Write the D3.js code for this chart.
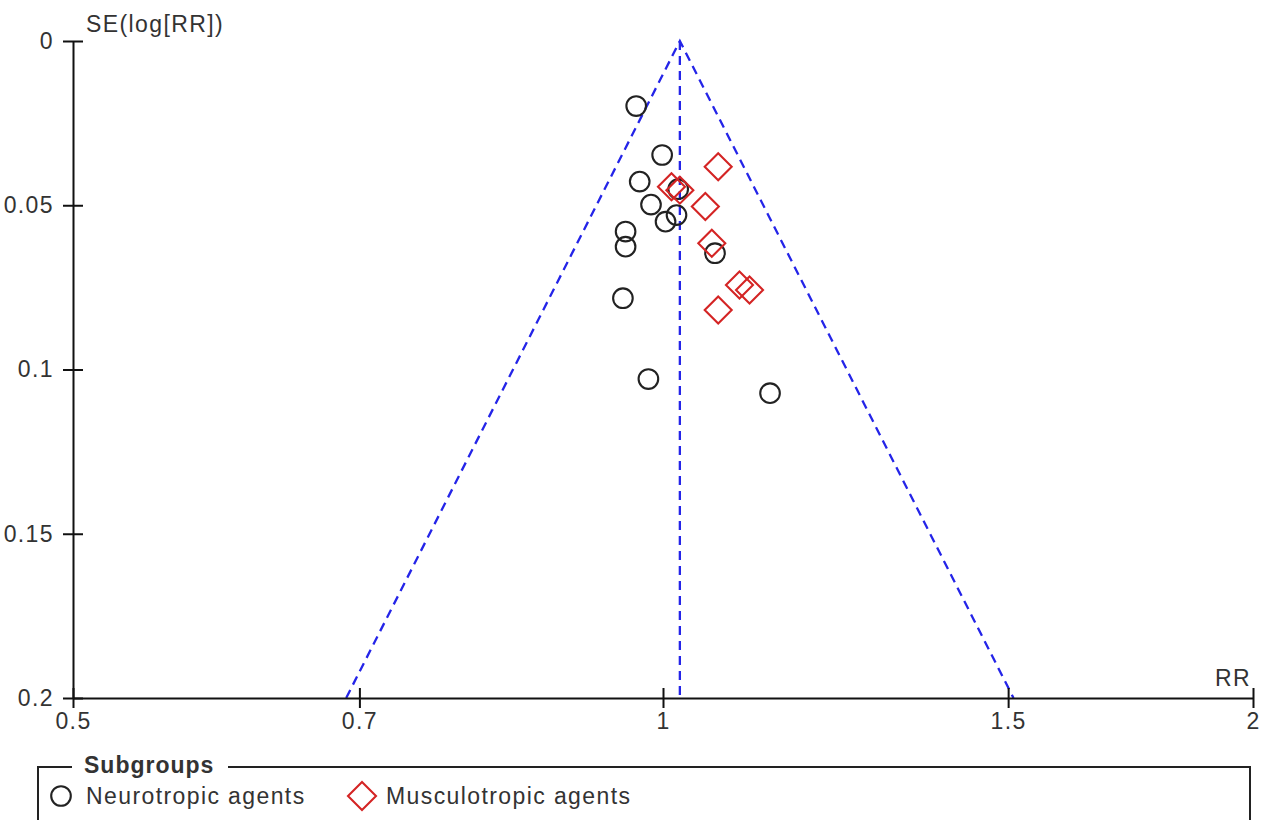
<!DOCTYPE html>
<html>
<head>
<meta charset="utf-8">
<script src="https://cdn.jsdelivr.net/npm/d3@7"></script>
<style>
  html, body { margin: 0; padding: 0; background: #fff; }
  svg text { font-family: "Liberation Sans", Arial, sans-serif; fill: #333; }
</style>
</head>
<body>
<svg id="chart" width="1262" height="820"></svg>
<script>
// Funnel plot: risk ratio (log scale) against standard error of log RR
const xTicks = [0.5, 0.7, 1, 1.5, 2];
const xTickLabels = ["0.5", "0.7", "1", "1.5", "2"];
const yTicks = [0, 0.05, 0.1, 0.15, 0.2];
const yTickLabels = ["0", "0.05", "0.1", "0.15", "0.2"];

const subgroups = ["Neurotropic agents", "Musculotropic agents"];

// Neurotropic agents
const neuroRR = [0.969, 0.999, 0.973, 1.018, 0.986, 1.016, 1.003, 0.957, 0.957, 1.063, 0.954, 0.983, 1.134];
const neuroSE = [0.0198, 0.0347, 0.0428, 0.0451, 0.0498, 0.0530, 0.0550, 0.0580, 0.0626, 0.0646, 0.0783, 0.1029, 0.1072];

// Musculotropic agents
const muscRR = [1.067, 1.010, 1.020, 1.051, 1.059, 1.094, 1.107, 1.067];
const muscSE = [0.0383, 0.0444, 0.0454, 0.0504, 0.0616, 0.0743, 0.0758, 0.0819];

const pooledRR = 1.02;
const maxSE = 0.2;

const svg = d3.select("#chart");
const x = d3.scaleLog().domain([0.5, 2]).range([73, 1253]);
const y = d3.scaleLinear().domain([0, maxSE]).range([41, 698]);

const fontSize = 23, spacing = 1.4;

// funnel (pseudo 95% limits) and pooled estimate
const funnel = svg.append("g").attr("fill", "none")
  .attr("stroke", "#2424e8").attr("stroke-width", 2.3).attr("stroke-dasharray", "9,6");
funnel.append("line")
  .attr("x1", x(pooledRR)).attr("y1", y(0)).attr("x2", x(pooledRR)).attr("y2", y(maxSE));
funnel.append("path").attr("d", d3.line()([
  [x(pooledRR * Math.exp(-1.96 * maxSE)), y(maxSE)],
  [x(pooledRR), y(0)],
  [x(pooledRR * Math.exp(1.96 * maxSE)), y(maxSE)]
]));

// axes
const yAxis = d3.axisLeft(y).tickValues(yTicks)
  .tickFormat((d, i) => yTickLabels[i]).tickSize(10).tickSizeOuter(0).tickPadding(9);
const gy = svg.append("g").attr("transform", `translate(${x(0.5)},0)`).call(yAxis);
gy.selectAll(".tick line").attr("x1", 10);

const xAxis = d3.axisBottom(x).tickValues(xTicks)
  .tickFormat((d, i) => xTickLabels[i]).tickSize(10).tickSizeOuter(0).tickPadding(5);
const gx = svg.append("g").attr("transform", `translate(0,${y(maxSE)})`).call(xAxis);
gx.selectAll(".tick line").attr("y1", -10);

[gx, gy].forEach(g => {
  g.selectAll("path.domain").attr("stroke", "#111").attr("stroke-width", 2);
  g.selectAll(".tick line").attr("stroke", "#111").attr("stroke-width", 2);
  g.selectAll(".tick text").attr("font-size", fontSize).attr("letter-spacing", spacing)
    .attr("fill", "#333").attr("font-family", null);
});

svg.append("text").attr("x", 86).attr("y", 32)
  .attr("font-size", fontSize).attr("letter-spacing", spacing).text("SE(log[RR])");
svg.append("text").attr("x", 1251).attr("y", 686).attr("text-anchor", "end")
  .attr("font-size", fontSize).attr("letter-spacing", spacing).text("RR");

// study markers
const circleColor = "#222";
const diamondColor = "#d42424";
const diamond = (cx, cy, r) => `M${cx},${cy - r}L${cx + r},${cy}L${cx},${cy + r}L${cx - r},${cy}Z`;

svg.append("g").selectAll("circle")
  .data(neuroRR.map((rr, i) => ({ rr, se: neuroSE[i] })))
  .join("circle")
  .attr("cx", d => x(d.rr)).attr("cy", d => y(d.se)).attr("r", 9.8)
  .attr("fill", "none").attr("stroke", circleColor).attr("stroke-width", 2.1);

svg.append("g").selectAll("path")
  .data(muscRR.map((rr, i) => ({ rr, se: muscSE[i] })))
  .join("path")
  .attr("d", d => diamond(x(d.rr), y(d.se), 13.5))
  .attr("fill", "none").attr("stroke", diamondColor).attr("stroke-width", 2.1);

// legend
const legend = svg.append("g");
legend.append("path")
  .attr("d", "M38,840V767H72M228,767H1250V840")
  .attr("fill", "none").attr("stroke", "#222").attr("stroke-width", 2);
legend.append("text").attr("x", 84).attr("y", 773)
  .attr("font-size", fontSize).attr("font-weight", "bold").attr("letter-spacing", 1)
  .attr("fill", "#444").text("Subgroups");

legend.append("circle").attr("cx", 61).attr("cy", 796).attr("r", 9.8)
  .attr("fill", "none").attr("stroke", circleColor).attr("stroke-width", 2.1);
legend.append("text").attr("x", 86).attr("y", 804)
  .attr("font-size", fontSize).attr("letter-spacing", spacing).text(subgroups[0]);

legend.append("path").attr("d", diamond(362, 796, 14))
  .attr("fill", "none").attr("stroke", diamondColor).attr("stroke-width", 2.1);
legend.append("text").attr("x", 386).attr("y", 804)
  .attr("font-size", fontSize).attr("letter-spacing", spacing).text(subgroups[1]);
</script>
</body>
</html>
